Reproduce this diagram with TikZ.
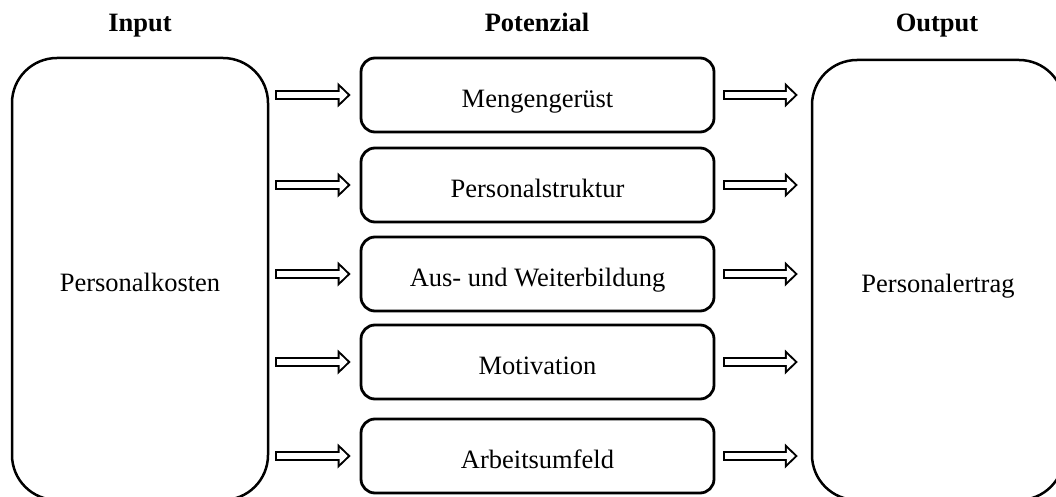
\documentclass[tikz,border=0pt]{standalone}
\usepackage{fontspec}
\setmainfont{Liberation Serif}
\usetikzlibrary{arrows.meta}
\begin{document}
\begin{tikzpicture}[x=1pt, y=-1pt, font=\fontsize{26.5}{30}\selectfont, line join=round,
		bigbox/.style={draw, line width=2.5pt, rounded corners=45pt, minimum width=256pt, minimum height=442pt, text height=25pt, text depth=0pt},
		potbox/.style={draw, line width=2.8pt, rounded corners=14pt, minimum width=353pt, minimum height=74pt, text height=25pt, text depth=0pt},
		title/.style={font=\fontsize{26.5}{30}\selectfont\bfseries, anchor=base},
		flow/.style 2 args={line width=10pt, shorten <=#1, shorten >=#2,
			-{Triangle[length=13pt, width=25pt, line width=0pt]},
			postaction={draw, white, line width=6pt, shorten <=#1+2pt, shorten >=#2+2.9pt,
				-{Triangle[length=8.1pt, width=15.6pt, line width=0pt]}}}]
	\clip (0,0) rectangle (1056,497);
	
	\node[title] (tin) at (140,32) {Input};
	\node[title] (tpot) at (537,32) {Potenzial};
	\node[title] (tout) at (937,32) {Output};
	
	\node[bigbox] (input) at (140,279) {Personalkosten};
	\node[bigbox, minimum width=252pt, minimum height=440pt] (output) at (938,280) {Personalertrag};
	
	\node[potbox] (menge) at (537.5,95) {Mengengerüst};
	\node[potbox] (struktur) at (537.5,185) {Personalstruktur};
	\node[potbox] (bildung) at (537.5,274) {Aus- und Weiterbildung};
	\node[potbox] (motiv) at (537.5,362) {Motivation};
	\node[potbox] (umfeld) at (537.5,456) {Arbeitsumfeld};
	
	\foreach \p in {menge, struktur, bildung, motiv, umfeld} {
		\draw[flow={6pt}{9pt}] (input.east |- \p.west) -- (\p.west);
		\draw[flow={8pt}{13pt}] (\p.east) -- (output.west |- \p.east);
	}
\end{tikzpicture}
\end{document}
